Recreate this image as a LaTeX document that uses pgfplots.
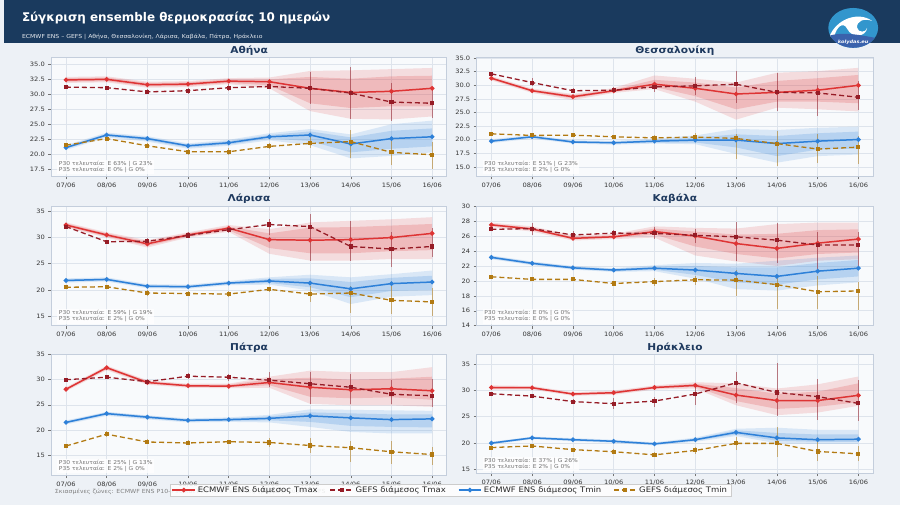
\documentclass[border=0pt]{standalone}
\usepackage{fontspec}
\setmainfont{DejaVu Sans}[FakeStretch=1.12]
\newfontfamily\headfont{DejaVu Sans}
\usepackage{pgfplots}
\usepackage{pgfplotstable}
\pgfplotsset{compat=1.18}
\usepgfplotslibrary{fillbetween}

\definecolor{hdr}{RGB}{26,58,94}
\definecolor{figbg}{RGB}{237,241,246}
\definecolor{axbg}{RGB}{248,250,252}
\definecolor{spine}{RGB}{196,206,220}
\definecolor{gridc}{RGB}{222,228,236}
\definecolor{ttl}{RGB}{31,58,95}
\definecolor{ecR}{RGB}{222,52,52}
\definecolor{gfR}{RGB}{150,28,38}
\definecolor{ecB}{RGB}{45,128,216}
\definecolor{gfB}{RGB}{178,122,18}
\definecolor{logoL}{RGB}{50,150,205}
\definecolor{logoD}{RGB}{58,98,172}

% columns: day, ECMWF Tmax median, P10, P90, P25, P75, GEFS Tmax median, -err, +err,
%          ECMWF Tmin median, P10, P90, P25, P75, GEFS Tmin median, -err, +err
\pgfplotstableread{
x eM eLo eHi elo ehi gM gm gp nM nLo nHi nlo nhi hM hm hp
0 32.4 31.9 32.9 32.1 32.7 31.2 0.2 0.2 21.1 20.7 21.5 20.9 21.3 21.5 0.3 0.3
1 32.5 32.0 33.0 32.2 32.8 31.1 0.3 0.3 23.2 22.8 23.6 23.0 23.4 22.6 0.3 0.3
2 31.6 31.1 32.1 31.3 31.9 30.4 0.4 0.4 22.6 22.1 23.0 22.3 22.8 21.4 0.3 0.4
3 31.7 31.2 32.2 31.4 32.0 30.6 0.5 0.5 21.4 20.9 21.8 21.1 21.6 20.4 0.5 0.5
4 32.2 31.7 32.7 31.9 32.5 31.1 0.5 0.6 21.9 21.4 22.4 21.6 22.2 20.4 0.6 0.6
5 32.1 31.0 32.8 31.5 32.5 31.3 0.5 0.5 22.9 22.3 23.5 22.6 23.2 21.3 0.5 0.5
6 31.0 27.2 33.9 28.5 32.9 31.0 2.7 2.8 23.2 21.5 24.2 22.2 23.8 21.8 0.8 1.0
7 30.3 25.9 34.0 27.7 32.6 30.2 4.4 4.3 21.7 19.3 23.3 20.3 22.8 22.1 2.8 1.9
8 30.5 25.8 34.2 28.0 33.0 28.7 3.2 3.2 22.6 19.7 25.0 20.9 23.9 20.3 2.1 2.3
9 31.0 26.3 34.4 28.0 33.1 28.5 2.4 2.3 22.9 20.3 25.6 21.3 24.3 19.9 2.4 2.1
}\athens
\pgfplotstableread{
x eM eLo eHi elo ehi gM gm gp nM nLo nHi nlo nhi hM hm hp
0 31.3 30.9 31.7 31.1 31.5 32.1 0.3 0.3 19.75 19.4 20.1 19.6 19.9 21.1 0.3 0.4
1 29.0 28.6 29.4 28.8 29.2 30.5 0.6 0.8 20.55 20.2 20.9 20.4 20.7 20.8 0.3 0.3
2 27.9 27.3 28.4 27.6 28.2 29.0 0.4 0.5 19.6 19.3 19.9 19.45 19.75 20.85 0.3 0.4
3 29.0 28.6 29.5 28.8 29.2 29.1 0.6 0.5 19.45 19.1 19.8 19.3 19.6 20.55 0.3 0.3
4 30.2 29.3 31.8 29.7 31.0 29.7 0.9 0.6 19.75 19.3 20.2 19.5 20.0 20.35 0.4 0.5
5 29.45 27.0 31.2 28.0 30.5 29.9 1.6 1.6 19.95 19.2 20.8 19.5 20.4 20.5 0.75 0.8
6 28.4 23.7 30.5 25.6 29.6 30.2 3.4 2.4 19.95 17.4 22.0 18.6 21.0 20.25 3.85 0.75
7 28.7 25.9 32.3 27.0 30.8 28.7 3.5 3.6 19.3 15.8 21.8 17.0 20.7 19.3 4.1 2.3
8 29.1 25.6 32.6 27.0 31.3 28.6 4.3 1.4 19.75 17.0 22.2 18.2 21.2 18.3 2.5 2.7
9 30.0 25.2 33.2 26.7 31.9 27.8 2.3 2.9 20.05 17.3 22.4 18.4 21.5 18.65 3.15 2.05
}\thessaloniki
\pgfplotstableread{
x eM eLo eHi elo ehi gM gm gp nM nLo nHi nlo nhi hM hm hp
0 32.4 31.9 32.9 32.1 32.7 32.1 0.3 0.3 21.8 21.4 22.2 21.6 22.0 20.5 0.2 0.2
1 30.5 30.0 31.0 30.2 30.8 29.2 0.3 0.3 22.0 21.6 22.4 21.8 22.2 20.6 0.3 0.3
2 28.8 28.1 29.5 28.4 29.2 29.3 0.6 0.6 20.7 20.3 21.1 20.5 20.9 19.4 0.6 0.6
3 30.5 30.0 31.0 30.2 30.8 30.4 0.5 0.6 20.6 20.2 21.0 20.4 20.8 19.3 0.5 0.5
4 31.8 31.1 32.4 31.4 32.1 31.5 0.6 0.6 21.3 20.9 21.7 21.1 21.5 19.2 0.6 0.6
5 29.6 26.9 31.6 28.0 30.8 32.5 2.0 1.0 21.7 21.0 22.4 21.3 22.1 20.1 0.6 0.5
6 29.5 25.6 32.9 27.0 31.9 32.1 6.5 2.4 21.3 19.9 22.9 20.5 22.2 19.2 1.5 1.6
7 29.6 25.6 33.2 27.0 32.0 28.3 2.7 4.9 20.2 17.3 22.4 18.6 21.5 19.4 3.8 1.4
8 30.0 25.9 33.5 27.4 32.3 27.8 3.5 3.3 21.2 18.7 23.0 19.8 22.3 18.0 2.6 2.8
9 30.8 25.9 33.9 27.6 32.6 28.3 2.1 3.5 21.5 19.0 23.7 20.0 22.7 17.7 2.6 2.6
}\larisa
\pgfplotstableread{
x eM eLo eHi elo ehi gM gm gp nM nLo nHi nlo nhi hM hm hp
0 27.5 27.2 27.8 27.35 27.65 26.9 0.2 0.2 23.15 22.9 23.4 23.0 23.3 20.55 0.1 0.2
1 26.95 26.6 27.3 26.8 27.1 27.0 0.8 0.7 22.35 22.1 22.6 22.2 22.5 20.2 0.2 0.2
2 25.7 25.4 26.1 25.55 25.9 26.15 0.5 0.5 21.75 21.5 22.0 21.6 21.9 20.2 0.2 0.3
3 25.9 25.6 26.3 25.75 26.1 26.4 0.4 0.4 21.45 21.2 21.7 21.3 21.6 19.65 0.3 0.4
4 26.6 25.8 27.3 26.2 27.0 26.35 0.8 0.9 21.7 21.3 22.1 21.5 21.9 19.9 0.6 0.5
5 26.0 23.4 27.1 24.6 26.6 26.1 1.0 0.9 21.45 20.3 22.4 20.8 22.0 20.15 0.75 0.55
6 25.0 22.6 27.0 23.6 26.2 25.9 3.3 2.0 21.0 18.9 22.3 19.8 21.8 20.1 2.1 1.3
7 24.35 22.0 27.6 23.0 26.3 25.45 3.05 2.35 20.6 18.7 22.7 19.5 21.8 19.5 3.2 1.1
8 25.05 22.7 27.8 23.6 26.8 24.8 3.4 1.7 21.3 19.4 23.1 20.2 22.4 18.55 2.25 2.15
9 25.6 22.9 27.8 23.8 26.9 24.8 2.8 1.7 21.7 19.8 23.4 20.6 22.8 18.65 2.55 1.15
}\kavala
\pgfplotstableread{
x eM eLo eHi elo ehi gM gm gp nM nLo nHi nlo nhi hM hm hp
0 28.1 27.7 28.5 27.9 28.3 30.0 0.3 0.3 21.5 21.1 21.9 21.3 21.7 16.8 0.3 0.3
1 32.4 31.9 32.8 32.1 32.6 30.5 0.4 0.4 23.25 22.8 23.6 23.0 23.5 19.15 0.6 0.7
2 29.45 29.0 29.9 29.2 29.7 29.6 0.4 0.5 22.55 22.1 22.9 22.3 22.8 17.6 0.5 0.5
3 28.8 28.4 29.2 28.6 29.0 30.7 0.6 0.6 21.9 21.5 22.3 21.7 22.1 17.4 0.4 0.5
4 28.7 28.3 29.2 28.5 29.0 30.5 0.8 0.7 22.05 21.6 22.5 21.8 22.3 17.65 0.4 0.4
5 29.45 28.4 30.6 28.9 30.1 29.9 1.4 1.6 22.3 21.5 23.0 21.9 22.7 17.5 0.8 0.9
6 28.5 25.2 31.8 26.6 30.4 29.2 4.0 2.3 22.8 20.6 24.1 21.6 23.5 16.9 1.4 1.4
7 28.0 24.9 31.5 26.3 30.0 28.5 3.3 2.7 22.4 19.6 24.0 20.8 23.3 16.45 2.75 1.25
8 28.2 24.9 31.5 26.5 30.2 27.1 1.9 2.8 22.05 19.3 23.9 20.6 23.1 15.65 2.35 2.05
9 27.8 24.6 32.5 26.0 30.6 26.8 2.2 3.4 22.2 19.3 23.8 20.5 23.1 15.1 2.1 1.5
}\patra
\pgfplotstableread{
x eM eLo eHi elo ehi gM gm gp nM nLo nHi nlo nhi hM hm hp
0 30.6 30.2 31.0 30.4 30.8 29.4 0.3 0.3 19.95 19.7 20.2 19.8 20.1 19.1 0.2 0.2
1 30.55 30.2 30.9 30.4 30.7 28.95 0.3 0.3 20.95 20.7 21.2 20.8 21.1 19.4 0.3 0.3
2 29.35 29.0 29.7 29.2 29.5 27.9 0.5 0.5 20.6 20.3 20.9 20.45 20.75 18.7 0.3 0.3
3 29.6 29.2 30.0 29.4 29.8 27.5 1.1 1.0 20.3 20.0 20.6 20.15 20.45 18.3 0.5 0.5
4 30.6 30.2 31.0 30.4 30.8 28.0 1.2 0.8 19.8 19.5 20.1 19.65 19.95 17.7 0.4 0.5
5 31.0 30.4 31.6 30.7 31.3 29.35 2.05 1.35 20.6 20.2 21.0 20.4 20.8 18.55 0.6 0.7
6 29.15 27.2 31.4 28.0 30.5 31.5 3.8 2.1 22.0 21.3 22.7 21.6 22.4 19.9 1.2 1.3
7 28.1 25.3 30.4 26.5 29.4 29.65 4.45 5.65 20.95 19.9 22.9 20.4 21.9 19.9 2.6 3.1
8 28.1 25.8 31.2 26.9 29.8 28.85 4.55 3.45 20.6 19.8 22.5 20.2 21.6 18.35 1.85 1.95
9 29.1 27.1 32.7 27.8 31.4 27.55 3.45 4.45 20.7 19.8 22.5 20.2 21.6 17.9 1.4 1.5
}\heraklion

\pgfplotsset{
  panel/.style={
    scale only axis, anchor=north west,
    xmin=-0.36, xmax=9.36,
    xtick={0,...,9},
    xticklabels={07/06,08/06,09/06,10/06,11/06,12/06,13/06,14/06,15/06,16/06},
    tick pos=left, tick align=outside, major tick length=3pt,
    every tick/.style={draw=black!55, line width=0.5pt},
    tick label style={font=\fontsize{6}{7}\selectfont, text=black!80},
    /pgf/number format/assume math mode=true,
    xmajorgrids, ymajorgrids,
    major grid style={draw=gridc, line width=0.6pt},
    axis line style={draw=spine, line width=0.8pt},
    axis background/.style={fill=axbg},
    title style={font=\fontsize{9.5}{10}\selectfont\bfseries, text=ttl,
      anchor=base, at={(0.5,1)}, yshift=-1.5pt},
    legend image code/.code={%
      \draw[mark repeat=2, mark phase=2, ##1] plot coordinates {
        (0cm,0cm) (0.4cm,0cm) (0.8cm,0cm)};},
  },
  onedec/.style={yticklabel style={/pgf/number format/fixed,
      /pgf/number format/fixed zerofill, /pgf/number format/precision=1}},
  ecmwf/.style={line width=1.5pt, mark=*, mark size=1.5pt},
  gefs/.style={line width=1.3pt, dash pattern=on 5pt off 3pt,
    mark=square*, mark size=1.4pt, mark options={solid},
    error bars/.cd, y dir=both, y explicit, error mark=none,
    error bar style={solid, line width=0.7pt, opacity=0.55}},
}

% ensemble bands, medians and GEFS spread bars for one city (#2: path prefix)
\newcommand\cityplots[2]{%
  \addplot[name path=#2ra, draw=none, forget plot] table[x=x, y=eHi]{#1};
  \addplot[name path=#2rb, draw=none, forget plot] table[x=x, y=eLo]{#1};
  \addplot[fill=ecR, fill opacity=0.15, draw=none, forget plot] fill between[of=#2ra and #2rb];
  \addplot[name path=#2rc, draw=none, forget plot] table[x=x, y=ehi]{#1};
  \addplot[name path=#2rd, draw=none, forget plot] table[x=x, y=elo]{#1};
  \addplot[fill=ecR, fill opacity=0.2, draw=none, forget plot] fill between[of=#2rc and #2rd];
  \addplot[name path=#2ba, draw=none, forget plot] table[x=x, y=nHi]{#1};
  \addplot[name path=#2bb, draw=none, forget plot] table[x=x, y=nLo]{#1};
  \addplot[fill=ecB, fill opacity=0.15, draw=none, forget plot] fill between[of=#2ba and #2bb];
  \addplot[name path=#2bc, draw=none, forget plot] table[x=x, y=nhi]{#1};
  \addplot[name path=#2bd, draw=none, forget plot] table[x=x, y=nlo]{#1};
  \addplot[fill=ecB, fill opacity=0.2, draw=none, forget plot] fill between[of=#2bc and #2bd];
  \addplot[ecR, ecmwf] table[x=x, y=eM]{#1};
  \addplot[gfR, gefs] table[x=x, y=gM, y error plus=gp, y error minus=gm]{#1};
  \addplot[ecB, ecmwf] table[x=x, y=nM]{#1};
  \addplot[gfB, gefs] table[x=x, y=hM, y error plus=hp, y error minus=hm]{#1};
}
\newcommand\pnote[2]{%
  \node[anchor=south west, fill=white, fill opacity=0.75, text opacity=1,
    text=black!55, font=\fontsize{5.4}{6}\selectfont, align=left,
    inner sep=1.5pt] at (rel axis cs:0.015,0.015) {#1\\#2};
}

\begin{document}
\pagecolor{figbg}
\begin{tikzpicture}
  \begin{scope}[x=1pt, y=1pt]
    % header band
    \fill[hdr] (0,464) rectangle (900,507);
    \node[anchor=base west, text=white, font=\headfont\fontsize{12}{14}\selectfont\bfseries]
      at (15,485) {Σύγκριση ensemble θερμοκρασίας 10 ημερών};
    \node[anchor=base west, text=white!90!hdr, font=\fontsize{5.5}{7}\selectfont]
      at (15,468) {ECMWF ENS – GEFS | Αθήνα, Θεσσαλονίκη, Λάρισα, Καβάλα, Πάτρα, Ηράκλειο};
    % logo
    \begin{scope}
      \clip (853,479) ellipse (25 and 20);
      \fill[logoL] (826,457) rectangle (880,501);
      \fill[white] (829,470) .. controls (836,488) and (858,496) .. (872,486)
        .. controls (864,489) and (856,486) .. (857,479)
        .. controls (858,474) and (866,474) .. (867,479)
        .. controls (866,470) and (852,468) .. (847,478)
        .. controls (843,486) and (836,480) .. (834,470) -- cycle;
      \fill[logoD] (826,470) .. controls (840,476) and (860,472) .. (880,468)
        -- (880,457) -- (826,457) -- cycle;
    \end{scope}
    \node[text=white, font=\fontsize{4.5}{5}\selectfont\itshape\bfseries] at (853,465) {kolydas.eu};
    % footnote under the panels
    \node[anchor=base west, text=black!50, font=\fontsize{5.6}{7}\selectfont]
      at (48,12) {Σκιασμένες ζώνες: ECMWF ENS P10–P90 και P25–P75 · κάθετες γραμμές: εύρος GEFS};
    \path (0,0) rectangle (900,507);
  \end{scope}

  \begin{axis}[panel, at={(48pt,449pt)}, width=397pt, height=119pt,
      title={Αθήνα}, ymin=16.3, ymax=36.1, ytick={17.5,20,...,35}, onedec]
    \cityplots{\athens}{A}
    \pnote{P30 τελευταία: E 63\% | G 23\%}{P35 τελευταία: E 0\% | G 0\%}
  \end{axis}
  \begin{axis}[panel, at={(475pt,449pt)}, width=398pt, height=119pt,
      title={Θεσσαλονίκη}, ymin=13.3, ymax=35.05, ytick={15,17.5,...,35}, onedec]
    \cityplots{\thessaloniki}{B}
    \pnote{P30 τελευταία: E 51\% | G 23\%}{P35 τελευταία: E 2\% | G 0\%}
  \end{axis}
  \begin{axis}[panel, at={(48pt,300pt)}, width=397pt, height=120pt,
      title={Λάρισα}, ymin=13.15, ymax=36.0, ytick={15,20,...,35}]
    \cityplots{\larisa}{C}
    \pnote{P30 τελευταία: E 59\% | G 19\%}{P35 τελευταία: E 2\% | G 0\%}
  \end{axis}
  \begin{axis}[panel, at={(475pt,300pt)}, width=398pt, height=120pt,
      title={Καβάλα}, ymin=14, ymax=30, ytick={14,16,...,30}]
    \cityplots{\kavala}{D}
    \pnote{P30 τελευταία: E 0\% | G 0\%}{P35 τελευταία: E 0\% | G 0\%}
  \end{axis}
  \begin{axis}[panel, at={(48pt,151pt)}, width=397pt, height=121pt,
      title={Πάτρα}, ymin=11, ymax=35, ytick={15,20,...,35},
      legend entries={ECMWF ENS διάμεσος Tmax, GEFS διάμεσος Tmax,
        ECMWF ENS διάμεσος Tmin, GEFS διάμεσος Tmin},
      legend columns=4,
      legend style={at={(1.009,-0.124)}, anchor=center, draw=black!20,
        fill=white, fill opacity=0.85, text opacity=1, text=black!85,
        font=\fontsize{7.6}{8.5}\selectfont, inner ysep=0.5pt, inner xsep=2pt,
        /tikz/every even column/.append style={column sep=10pt}},
      legend cell align=left]
    \cityplots{\patra}{E}
    \pnote{P30 τελευταία: E 25\% | G 13\%}{P35 τελευταία: E 2\% | G 0\%}
  \end{axis}
  \begin{axis}[panel, at={(475pt,151pt)}, width=398pt, height=119pt,
      title={Ηράκλειο}, ymin=14.2, ymax=36.9, ytick={15,20,...,35}]
    \cityplots{\heraklion}{F}
    \pnote{P30 τελευταία: E 37\% | G 26\%}{P35 τελευταία: E 2\% | G 0\%}
  \end{axis}
  \pgfresetboundingbox
  \useasboundingbox (0pt,0pt) rectangle (900pt,507pt);
\end{tikzpicture}
\end{document}
